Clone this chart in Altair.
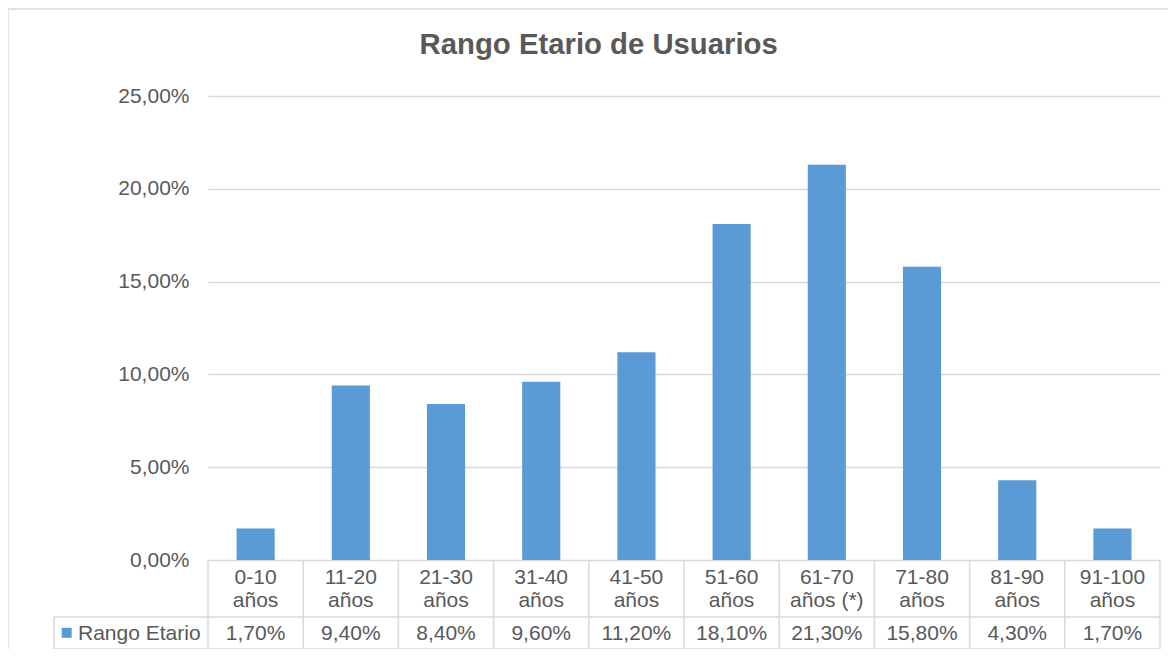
import altair as alt
import pandas as pd

title_text = "Rango Etario de Usuarios"
series_name = "Rango Etario"
ranges = ["0-10", "11-20", "21-30", "31-40", "41-50", "51-60", "61-70", "71-80", "81-90", "91-100"]
suffixes = ["años", "años", "años", "años", "años", "años", "años (*)", "años", "años", "años"]
values = [1.7, 9.4, 8.4, 9.6, 11.2, 18.1, 21.3, 15.8, 4.3, 1.7]
y_ticks = [0, 5, 10, 15, 20, 25]

BLUE = "#5B9BD5"
GRID = "#D9D9D9"
TXT = "#595959"
FONT = "Liberation Sans"
FS = 21

W, H = 952, 464

df = pd.DataFrame({"idx": list(range(len(ranges))), "r": ranges, "s": suffixes, "v": values})
df["start"] = df["idx"] + 0.3
df["end"] = df["idx"] + 0.7
df["mid"] = df["idx"] + 0.5
df["lab"] = [f"{v:.2f}".replace(".", ",") + "%" for v in values]
bounds = pd.DataFrame({"b": list(range(len(ranges) + 1))})
one = pd.DataFrame({"k": [0]})

xs = alt.Scale(domain=[0, len(ranges)], nice=False, zero=False)
ys = alt.Scale(domain=[0, 25], nice=False)

yaxis = alt.Axis(
    values=y_ticks,
    labelExpr="replace(format(datum.value, '.2f'), '.', ',') + '%'",
    grid=True, gridColor=GRID, gridWidth=1.5, domain=False, ticks=False, tickSize=0,
    labelPadding=19, labelFontSize=FS, labelColor=TXT, labelFont=FONT,
)

frame = alt.Chart(one).mark_rect(fill="white", fillOpacity=0, stroke=GRID, strokeWidth=1.5).encode(
    x=alt.value(-200), x2=alt.value(W + 100), y=alt.value(-87), y2=alt.value(H + 200)
)

shadow = alt.Chart(df).mark_bar(color="black", opacity=0.12, xOffset=1.5, yOffset=1.5,
                                stroke="black", strokeOpacity=0.06, strokeWidth=4).encode(
    x=alt.X("start:Q", scale=xs, axis=None), x2="end:Q",
    y=alt.Y("v:Q", scale=ys, title=None, axis=yaxis), y2=alt.datum(0),
)

bars = alt.Chart(df).mark_bar(color=BLUE).encode(
    x=alt.X("start:Q", scale=xs, axis=None), x2="end:Q",
    y=alt.Y("v:Q", scale=ys, title=None, axis=yaxis), y2=alt.datum(0),
)

vrules = alt.Chart(bounds).mark_rule(color=GRID, strokeWidth=1.5).encode(
    x=alt.X("b:Q", scale=xs, axis=None), y=alt.value(H), y2=alt.value(H + 89)
)
hrule1 = alt.Chart(one).mark_rule(color=GRID, strokeWidth=1.5).encode(
    x=alt.value(-154), x2=alt.value(W), y=alt.value(H + 57)
)
hrule2 = alt.Chart(one).mark_rule(color=GRID, strokeWidth=1.5).encode(
    x=alt.value(-154), x2=alt.value(W), y=alt.value(H + 89)
)
lrule = alt.Chart(one).mark_rule(color=GRID, strokeWidth=1.5).encode(
    x=alt.value(-154), y=alt.value(H + 57), y2=alt.value(H + 89)
)

line1 = alt.Chart(df).mark_text(fontSize=FS, color=TXT, font=FONT, baseline="alphabetic").encode(
    x=alt.X("mid:Q", scale=xs, axis=None), y=alt.value(488), text="r:N"
)
line2 = alt.Chart(df).mark_text(fontSize=FS, color=TXT, font=FONT, baseline="alphabetic").encode(
    x=alt.X("mid:Q", scale=xs, axis=None), y=alt.value(511), text="s:N"
)
vals = alt.Chart(df).mark_text(fontSize=FS, color=TXT, font=FONT, baseline="alphabetic").encode(
    x=alt.X("mid:Q", scale=xs, axis=None), y=alt.value(544), text="lab:N"
)

leg_sym = alt.Chart(one).mark_square(size=100, color=BLUE, opacity=1).encode(
    x=alt.value(-141.3), y=alt.value(536.8)
)
leg_txt = alt.Chart(one).mark_text(fontSize=FS, color=TXT, font=FONT, align="left", baseline="alphabetic").encode(
    x=alt.value(-130), y=alt.value(544), text=alt.value(series_name)
)

title = alt.Chart(one).mark_text(fontSize=29.3, fontWeight="bold", color=TXT, font=FONT,
                                 align="center", baseline="alphabetic").encode(
    x=alt.value(390.7), y=alt.value(-42), text=alt.value(title_text)
)

chart = alt.layer(
    frame, shadow, bars, vrules, hrule1, hrule2, lrule, line1, line2, vals, leg_sym, leg_txt, title
).properties(
    width=W, height=H,
    autosize=alt.AutoSizeParams(type="none"),
    padding={"left": 200, "top": 88, "right": 8, "bottom": 89},
).configure_view(stroke="transparent")

chart.save("out.html", embed_options={"renderer": "svg", "actions": False})
